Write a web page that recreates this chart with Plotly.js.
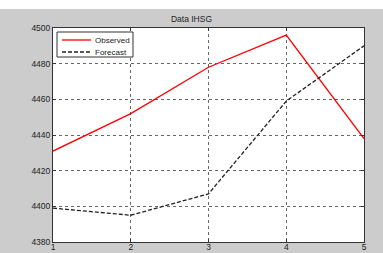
<!DOCTYPE html>
<html><head><meta charset="utf-8">
<script src="https://cdn.plot.ly/plotly-3.0.1.min.js"></script>
<style>html,body{margin:0;padding:0;background:#fff}</style>
</head><body>
<div id="chart" style="width:383px;height:253px"></div>
<script>
var xValues = [1, 2, 3, 4, 5];
var observed = [4431, 4452, 4478, 4496, 4438];
var forecast = [4399, 4395, 4407, 4459, 4490];
var yTicks = [4380, 4400, 4420, 4440, 4460, 4480, 4500];
var seriesNames = ['Observed', 'Forecast'];
var seriesColors = ['#ff0000', '#222222'];
var seriesDash = ['solid', '4px,2px'];

var traces = [
  {x: xValues, y: observed, mode: 'lines', name: seriesNames[0], line: {color: seriesColors[0], width: 1.3, dash: seriesDash[0]}},
  {x: xValues, y: forecast, mode: 'lines', name: seriesNames[1], line: {color: seriesColors[1], width: 1.3, dash: seriesDash[1]}}
];

var font = {family: 'Liberation Sans, Arial, sans-serif', size: 8.5, color: '#222'};
var legendFont = {family: 'Liberation Sans, Arial, sans-serif', size: 8, color: '#222'};
var axisCommon = {
  showline: true, mirror: 'ticks', linecolor: '#333', linewidth: 1,
  ticks: 'inside', ticklen: 3, tickcolor: '#333',
  showgrid: true, gridcolor: '#666', griddash: 'dot', gridwidth: 1,
  zeroline: false, tickfont: font
};

// plot area in px: left 53, right 364, top 28, bottom 242
var PW = 311, PH = 214;
function px(x) { return (x - 53) / PW; }
function py(y) { return 1 - (y - 28) / PH; }

var shapes = [
  {type: 'rect', xref: 'paper', yref: 'paper', x0: -0.2, x1: 1.1, y0: 1 + 19/PH, y1: 1 + 28/PH + 0.01, fillcolor: '#fff', line: {width: 0}, layer: 'below'},
  {type: 'rect', xref: 'paper', yref: 'paper', x0: px(57), x1: px(133), y0: py(57), y1: py(32), fillcolor: '#fff', line: {color: '#333', width: 1}}
];
var annotations = [];
var legendY = [40, 52];
for (var i = 0; i < seriesNames.length; i++) {
  shapes.push({type: 'line', xref: 'paper', yref: 'paper', x0: px(62), x1: px(91), y0: py(legendY[i]), y1: py(legendY[i]),
    line: {color: seriesColors[i], width: 1.3, dash: seriesDash[i]}});
  annotations.push({xref: 'paper', yref: 'paper', x: px(93), y: py(legendY[i]), xanchor: 'left', yanchor: 'middle',
    text: seriesNames[i], showarrow: false, font: legendFont});
}

var layout = {
  width: 383, height: 253,
  margin: {l: 53, r: 19, t: 28, b: 11, pad: 0},
  paper_bgcolor: '#cccccc', plot_bgcolor: '#ffffff',
  title: {text: 'Data IHSG', font: font, x: 0.5, xanchor: 'center', y: 1 - 19/253, yanchor: 'middle'},
  xaxis: Object.assign({}, axisCommon, {range: [1, 5], tickvals: xValues, ticklabelstandoff: -3}),
  yaxis: Object.assign({}, axisCommon, {range: [4380, 4500], tickvals: yTicks}),
  showlegend: false,
  shapes: shapes,
  annotations: annotations
};

Plotly.newPlot('chart', traces, layout, {displayModeBar: false, staticPlot: true});
</script>
</body></html>
